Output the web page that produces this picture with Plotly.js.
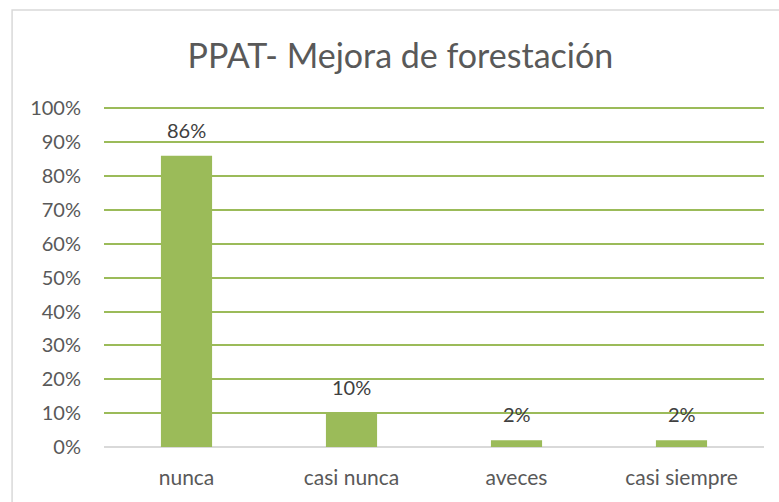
<!DOCTYPE html>
<html><head><meta charset="utf-8">
<script src="https://cdn.plot.ly/plotly-3.0.1.min.js"></script>
<style>html,body{margin:0;padding:0;background:#fff}#c{width:779px;height:502px}</style>
</head><body><div id="c"></div>
<script>
const categories = ["nunca", "casi nunca", "aveces", "casi siempre"];
const values = [0.86, 0.10, 0.02, 0.02];
const labels = ["86%", "10%", "2%", "2%"];
const yTicks = [0,0.1,0.2,0.3,0.4,0.5,0.6,0.7,0.8,0.9,1.0];
const yTickText = ["0%","10%","20%","30%","40%","50%","60%","70%","80%","90%","100%"];

const FONT = "Lato, Open Sans, DejaVu Sans, sans-serif";
const trace = {
  type: "bar", x: categories, y: values,
  marker: {color: "#9BBB59"}, hoverinfo: "none"
};
const annotations = categories.map((c, i) => ({
  x: c, y: values[i], xref: "x", yref: "y", text: labels[i],
  showarrow: false, yanchor: "bottom", yshift: 12,
  font: {family: FONT, size: 20, color: "#404040"}
}));
const layout = {
  width: 779, height: 502,
  margin: {l: 104, r: 15, t: 107, b: 55},
  paper_bgcolor: "#fff", plot_bgcolor: "#fff",
  bargap: 0.69,
  showlegend: false,
  title: {text: "PPAT- Mejora de forestación", x: 0.514, xanchor: "center", y: 0.889, yanchor: "middle",
          font: {family: FONT, size: 34, color: "#595959"}},
  xaxis: {type: "category", showgrid: false, showline: false, zeroline: false, ticks: "",
          tickfont: {family: FONT, size: 21, color: "#595959"}, ticklabelstandoff: 16},
  yaxis: {range: [0, 1.004], tickvals: yTicks, ticktext: yTickText, showgrid: true,
          gridcolor: "#9BBB59", gridwidth: 2, zeroline: true, zerolinecolor: "#D9D9D9", zerolinewidth: 2,
          showline: false, ticks: "", ticklabelstandoff: 22,
          tickfont: {family: FONT, size: 20, color: "#595959"}},
  annotations: annotations,
  shapes: [{type: "rect", xref: "paper", yref: "paper",
            x0: -94/675, x1: 1.05, y0: -0.2, y1: 1 + 97/340,
            line: {color: "#D9D9D9", width: 1.5}, fillcolor: "rgba(0,0,0,0)"}]
};
Plotly.newPlot("c", [trace], layout, {staticPlot: true, displayModeBar: false});
</script></body></html>
